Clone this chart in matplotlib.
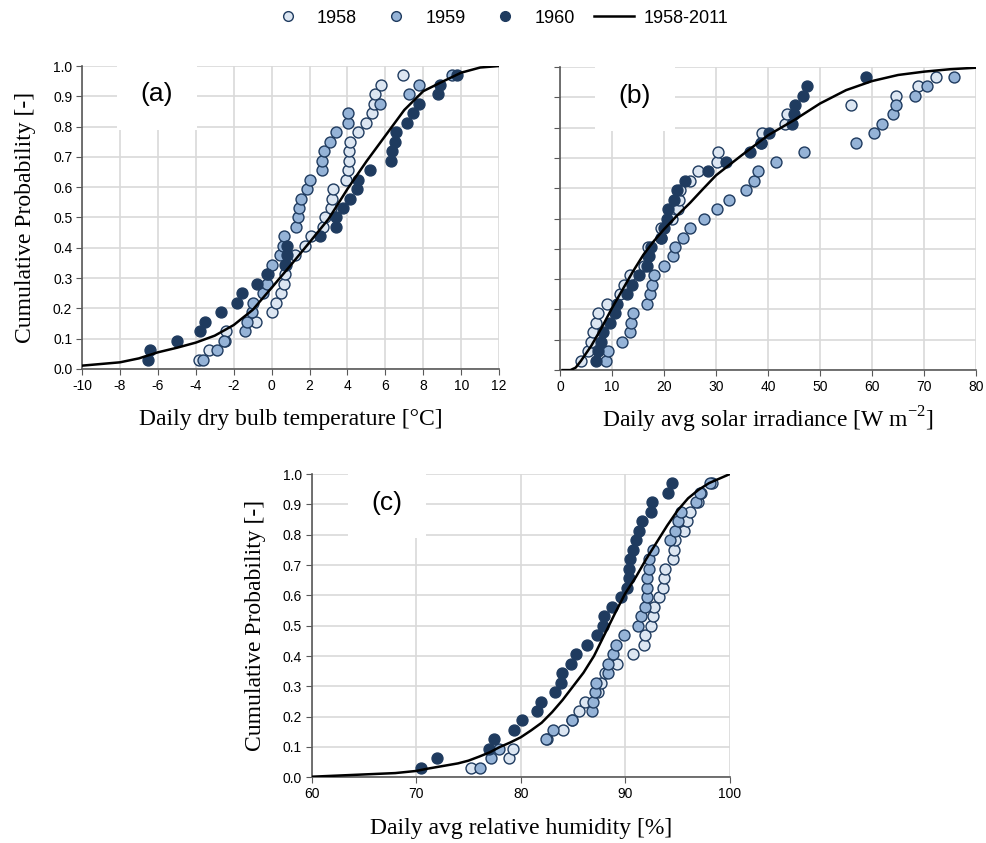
import numpy as np
import matplotlib
matplotlib.use("Agg")
import matplotlib.pyplot as plt
from matplotlib.lines import Line2D

plt.rcParams['font.family'] = ['Liberation Sans', 'DejaVu Sans']
plt.rcParams['mathtext.fontset'] = 'custom'
plt.rcParams['mathtext.rm'] = 'Liberation Serif'
plt.rcParams['axes.unicode_minus'] = False

# --- January daily values ---
# (a) dry bulb temperature [C]
temp_1958 = [-3.85, -3.32, -2.45, -2.40, -0.85, 0.0, 0.24, 0.51, 0.64, 0.73, 0.77,
             1.21, 1.75, 2.09, 2.72, 2.80, 3.14, 3.20, 3.23, 3.94, 4.03, 4.08, 4.10,
             4.15, 4.55, 4.99, 5.31, 5.40, 5.43, 5.75, 6.93]
temp_1959 = [-3.60, -2.89, -2.49, -1.41, -1.29, -1.03, -0.99, -0.46, -0.23, -0.20, 0.0,
             0.42, 0.62, 0.65, 1.26, 1.39, 1.44, 1.56, 1.86, 2.04, 2.65, 2.67, 2.74,
             3.06, 3.37, 4.02, 4.03, 5.70, 7.23, 7.77, 9.52]
temp_1960 = [-6.50, -6.40, -4.98, -3.76, -3.51, -2.65, -1.82, -1.54, -0.78, -0.25, 0.70,
             0.80, 0.82, 2.53, 3.37, 3.41, 3.78, 4.13, 4.51, 4.55, 5.17, 6.32, 6.37,
             6.49, 6.58, 7.16, 7.46, 7.79, 8.78, 8.90, 9.80]
# long term curve 1958-2011
temp_ref_x = [-10, -8, -7, -6, -5, -4, -3, -2, -1, 0, 1, 2, 3, 4, 5, 6, 7, 8, 9, 10, 11, 12]
temp_ref_p = [0.011, 0.022, 0.035, 0.055, 0.07, 0.087, 0.11, 0.145, 0.195, 0.268, 0.342,
              0.418, 0.495, 0.594, 0.685, 0.77, 0.855, 0.917, 0.948, 0.978, 0.995, 1.0]

# (b) solar irradiance [W m-2]
solar_1958 = [3.97, 5.45, 5.90, 6.41, 6.86, 7.37, 8.97, 11.54, 12.37, 13.46, 16.15,
              16.86, 16.99, 19.36, 19.40, 21.47, 22.76, 22.95, 23.08, 25.0, 26.6, 30.13,
              30.45, 38.65, 38.91, 43.27, 43.59, 55.9, 64.55, 68.78, 72.24]
solar_1959 = [8.9, 9.3, 11.9, 13.5, 13.7, 14.0, 16.7, 17.3, 17.6, 18.1, 19.9, 21.8,
              22.1, 23.6, 25.0, 27.7, 30.2, 32.5, 35.7, 37.2, 38.1, 41.5, 46.9, 56.9,
              60.4, 61.9, 64.1, 64.6, 68.3, 70.5, 75.8]
solar_1960 = [7.0, 7.3, 7.8, 8.3, 9.7, 10.6, 11.0, 12.8, 13.8, 15.2, 16.8, 17.1, 17.4,
              19.5, 19.9, 20.5, 20.8, 22.0, 22.5, 24.0, 28.5, 31.9, 36.5, 38.7, 40.2,
              44.6, 44.9, 45.2, 46.8, 47.4, 58.8]
solar_ref_x = [0.5, 2, 3, 4, 5, 6, 7, 8, 10, 12, 14, 16, 18, 20, 22.5, 25, 27.5, 30, 35,
               40, 45, 50, 55, 60, 65, 70, 75, 80]
solar_ref_p = [0.0, 0.0, 0.008, 0.03, 0.055, 0.08, 0.11, 0.14, 0.205, 0.265, 0.325, 0.38,
               0.425, 0.465, 0.51, 0.552, 0.598, 0.643, 0.71, 0.775, 0.825, 0.88, 0.924,
               0.954, 0.974, 0.985, 0.993, 0.998]

# (c) relative humidity [%]
rh_1958 = [75.23, 78.86, 79.28, 82.5, 84.06, 84.9, 85.6, 86.1, 87.4, 87.63, 88.1, 89.22,
           90.69, 91.77, 91.87, 92.41, 92.66, 92.76, 93.24, 93.62, 93.68, 93.78, 94.51,
           94.64, 94.73, 95.62, 95.85, 96.17, 96.96, 97.28, 98.3]
rh_1959 = [76.12, 77.11, 77.94, 82.37, 83.04, 84.86, 86.84, 86.93, 87.09, 87.18, 88.30,
           88.36, 88.78, 89.10, 89.86, 91.23, 91.45, 91.87, 92.03, 92.03, 92.09, 92.28,
           92.28, 92.66, 94.25, 94.73, 95.05, 95.28, 96.8, 97.12, 98.08]
rh_1960 = [70.42, 72.02, 76.96, 77.43, 79.38, 80.08, 81.58, 81.96, 83.27, 83.81, 83.90,
           84.76, 85.27, 86.30, 87.25, 87.89, 87.95, 88.69, 89.58, 90.18, 90.37, 90.37,
           90.44, 90.69, 91.01, 91.30, 91.55, 92.41, 92.51, 94.10, 94.49]
rh_ref_x = [60, 62, 64, 66, 68, 70, 71, 72, 73, 74, 75, 76, 77, 78, 79, 80, 81, 82, 83,
            84, 85, 86, 87, 88, 89, 90, 91, 92, 93, 94, 95, 96, 97, 98, 99, 100]
rh_ref_p = [0.002, 0.005, 0.008, 0.011, 0.014, 0.021, 0.028, 0.034, 0.040, 0.046, 0.055,
            0.068, 0.082, 0.10, 0.115, 0.132, 0.155, 0.18, 0.215, 0.255, 0.30, 0.345,
            0.40, 0.47, 0.54, 0.607, 0.66, 0.72, 0.775, 0.83, 0.88, 0.92, 0.948, 0.97,
            0.985, 1.0]

years = ['1958', '1959', '1960']
face_colors = ['#dce6f2', '#95b3d7', '#1f3b5f']
edge_color = '#1f3b5f'
grid_color = '#d9d9d9'
serif = ['Liberation Serif', 'DejaVu Serif']


def ecdf_pos(vals):
    v = np.sort(np.asarray(vals))
    return v, np.arange(1, len(v) + 1) / (len(v) + 1)


def draw_panel(ax, series, ref_x, ref_p, xlim, xstep, xlabel, tag, ylabels=True, xpad=12):
    for vals, fc in zip(series, face_colors):
        x, p = ecdf_pos(vals)
        ax.scatter(x, p, s=62, facecolor=fc, edgecolor=edge_color, linewidth=1.0, zorder=3)
    ax.plot(ref_x, ref_p, color='black', lw=1.8, zorder=4)
    ax.set_xlim(*xlim)
    ax.set_ylim(0, 1)
    ax.set_xticks(np.arange(xlim[0], xlim[1] + xstep / 2, xstep))
    ax.set_yticks(np.arange(0, 1.01, 0.1))
    ax.grid(True, color=grid_color, lw=1.2, zorder=0)
    ax.set_axisbelow(True)
    for s in ['top', 'right']:
        ax.spines[s].set_visible(False)
    for s in ['left', 'bottom']:
        ax.spines[s].set_color('#595959')
        ax.spines[s].set_linewidth(1.2)
    ax.tick_params(direction='out', length=4, color='#595959', labelsize=10, pad=3)
    if ylabels:
        ax.set_yticklabels([f'{t:.1f}' for t in np.arange(0, 1.01, 0.1)])
        ax.set_ylabel('Cumulative Probability [-]', family=serif, fontsize=17, labelpad=12)
    else:
        ax.set_yticklabels([])
    ax.set_xlabel(xlabel, family=serif, fontsize=17, labelpad=xpad)
    ax.text(0.18, 0.906, tag, transform=ax.transAxes, fontsize=19, ha='center', va='center',
            zorder=5, bbox=dict(facecolor='white', edgecolor='none', boxstyle='square,pad=0.9'))


fig = plt.figure(figsize=(9.86, 8.43), dpi=100)
ax_a = fig.add_axes([0.0832, 0.5623, 0.423, 0.3594])
ax_b = fig.add_axes([0.568, 0.561, 0.422, 0.3594])
ax_c = fig.add_axes([0.316, 0.0779, 0.4243, 0.3598])

draw_panel(ax_a, [temp_1958, temp_1959, temp_1960], temp_ref_x, temp_ref_p,
           (-10, 12), 2, 'Daily dry bulb temperature [°C]', '(a)')
draw_panel(ax_b, [solar_1958, solar_1959, solar_1960], solar_ref_x, solar_ref_p,
           (0, 80), 10, r'Daily avg solar irradiance [W m$^{-2}$]', '(b)', ylabels=False,
           xpad=8)
draw_panel(ax_c, [rh_1958, rh_1959, rh_1960], rh_ref_x, rh_ref_p,
           (60, 100), 10, 'Daily avg relative humidity [%]', '(c)')

handles = [Line2D([0], [0], marker='o', ls='none', markersize=7, markerfacecolor=fc,
                  markeredgecolor=edge_color, label=y) for y, fc in zip(years, face_colors)]
handles.append(Line2D([0], [0], color='black', lw=1.8, label='1958-2011'))
fig.legend(handles=handles, loc='upper center', bbox_to_anchor=(0.505, 1.008), ncol=4,
           frameon=False, fontsize=13, handlelength=2.2, handletextpad=0.5,
           columnspacing=1.1)

fig.savefig('out.png', dpi=100)
